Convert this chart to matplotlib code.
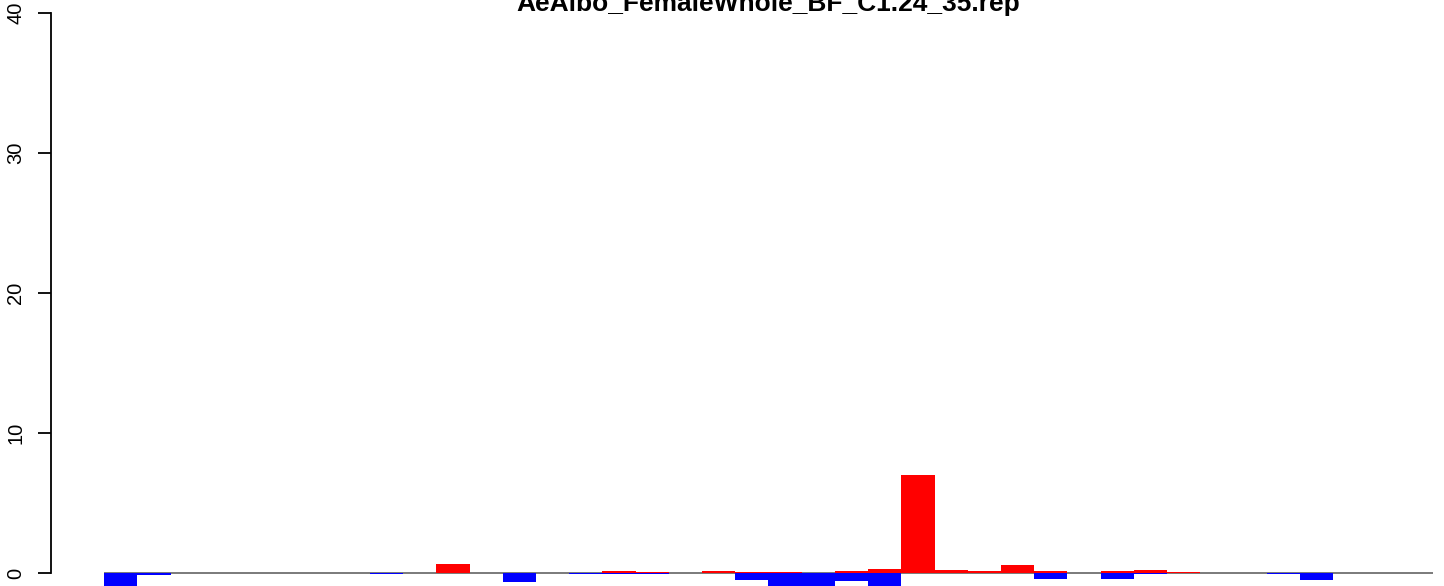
import numpy as np
import matplotlib
matplotlib.use("Agg")
import matplotlib.pyplot as plt
import matplotlib as mpl

# ---- style ----
FONT_FAMILY = "Liberation Sans"
FIG_W_PX, FIG_H_PX, DPI = 1444, 586, 100
COLOR_POS = "#FF0000"
COLOR_NEG = "#0000FF"
COLOR_ZERO = "#707070"

mpl.rcParams.update({
    "font.family": "sans-serif",
    "font.sans-serif": [FONT_FAMILY, "DejaVu Sans"],
})

# ---- data ----
TITLE = "AeAlbo_FemaleWhole_BF_C1.24_35.rep"
N_SLOTS = 40
pos_index = [10, 15, 16, 18, 19, 20, 22, 23, 24, 25, 26, 27, 28, 30, 31, 32]
pos_value = [0.67, 0.17, 0.10, 0.17, 0.10, 0.10, 0.17, 0.29, 7.0, 0.24, 0.17,
             0.57, 0.17, 0.17, 0.24, 0.07]
neg_index = [0, 1, 8, 11, 12, 14, 15, 16, 19, 20, 21, 22, 23, 28, 30, 31, 35, 36]
neg_value = [-1.0, -0.17, -0.10, -0.03, -0.67, -0.10, -0.10, -0.10, -0.48,
             -1.0, -1.0, -0.55, -1.0, -0.43, -0.43, -0.05, -0.10, -0.50]
y_ticks = [0, 10, 20, 30, 40]

pos = np.zeros(N_SLOTS)
pos[pos_index] = pos_value
neg = np.zeros(N_SLOTS)
neg[neg_index] = neg_value

# ---- figure ----
fig = plt.figure(figsize=(FIG_W_PX / DPI, FIG_H_PX / DPI), dpi=DPI)

# plot region in pixels (extends past the right edge like the cropped original)
left_px, right_px = 51, 1486
ax = fig.add_axes([left_px / FIG_W_PX, 0, (right_px - left_px) / FIG_W_PX, 1])

x = np.arange(N_SLOTS)
ax.bar(x, pos, width=1.0, align="edge", color=COLOR_POS, linewidth=0, zorder=2)
ax.bar(x, neg, width=1.0, align="edge", color=COLOR_NEG, linewidth=0, zorder=2)
ax.hlines(0, 0, N_SLOTS, color=COLOR_ZERO, linewidth=1.3, zorder=1)

ax.set_xlim(-0.04 * N_SLOTS, N_SLOTS * 1.04)
px_per_unit = 14.0
ax.set_ylim(-(FIG_H_PX - 573) / px_per_unit, 40 + 13 / px_per_unit)

for s in ["top", "right", "bottom"]:
    ax.spines[s].set_visible(False)
ax.spines["left"].set_bounds(0, 40)
ax.spines["left"].set_linewidth(1.3)
ax.set_xticks([])
ax.set_yticks(y_ticks)
ax.tick_params(axis="y", length=9.4, width=1.3, pad=9, labelsize=14.5)
for lab in ax.get_yticklabels():
    lab.set_rotation(90)
    lab.set_va("center")

fig.text(768 / FIG_W_PX, 1 - 11 / FIG_H_PX, TITLE, ha="center", va="baseline",
         fontsize=19, fontweight="bold")

fig.savefig("out.png", dpi=DPI)
